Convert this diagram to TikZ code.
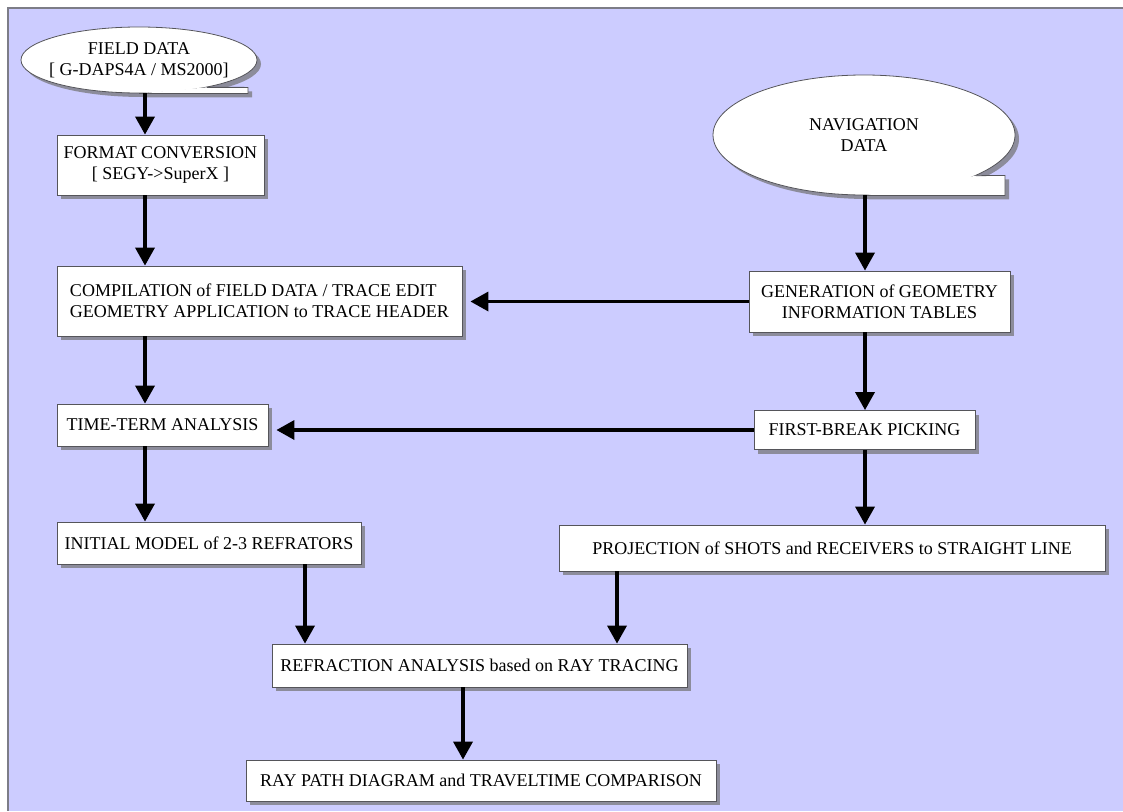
\documentclass[tikz,border=0pt]{standalone}
\usepackage{fontspec}
\setmainfont{Liberation Serif}
\usepackage{tikz}
\usetikzlibrary{arrows.meta,shapes.geometric,shadows,calc}

\definecolor{lavender}{RGB}{204,204,255}
\definecolor{framegray}{RGB}{125,125,135}
\definecolor{edgegray}{RGB}{85,85,90}
\definecolor{shadegray}{RGB}{140,140,155}

\begin{document}
\begin{tikzpicture}[
  x=1pt, y=-1pt,
  font=\fontsize{18}{21}\selectfont,
  shade/.style={drop shadow={shadow xshift=4pt, shadow yshift=-4pt,
               fill=shadegray, opacity=1}},
  stagebox/.style={draw=edgegray, fill=white, line width=0.8pt, align=center,
               inner sep=2pt, shade},
  tapebox/.style={stagebox, ellipse, inner sep=0pt},
  tail/.style={fill=white, shade},
  flow/.style={-{Triangle[length=18pt,width=19pt]}, line width=3.5pt}
]
\useasboundingbox (0,0) rectangle (1123,811);
\fill[white] (0,0) rectangle (1123,811);
\fill[lavender] (8,8) rectangle (1123,811);
\draw[framegray, line width=1.2pt] (1123,8) -- (8,8) -- (8,811);

% data sources
\node[tapebox, minimum width=236, minimum height=66, inner xsep=-14pt] (field) at (139,60)
  {FIELD DATA\\{[} G-DAPS4A / MS2000{]}};
\fill[tail] (field.south) -- ++(109,0) -- ++(0,-6) -- (field.-22) -- cycle;
\draw[edgegray, line width=0.8pt] (field.south) -- ++(109,0) -- ++(0,-6) -- (field.-22);

\node[tapebox, minimum width=302, minimum height=120] (nav) at (864,135)
  {NAVIGATION\\DATA};
\fill[tail] (nav.south) -- ++(141,0) -- ++(0,-20) -- (nav.-20) -- cycle;
\draw[edgegray, line width=0.8pt] (nav.south) -- ++(141,0) -- ++(0,-20) -- (nav.-20);

% processing steps
\node[stagebox, minimum width=207, minimum height=60] (fmt) at (160.5,165)
  {FORMAT CONVERSION\\{[} SEGY->SuperX ]};
\node[stagebox, minimum width=405, minimum height=70, align=left] (comp) at (259.5,301)
  {COMPILATION of FIELD DATA / TRACE EDIT\\GEOMETRY APPLICATION to TRACE HEADER};
\node[stagebox, minimum width=261, minimum height=61] (geo) at (879.5,301.5)
  {GENERATION of GEOMETRY\\INFORMATION TABLES};
\node[stagebox, minimum width=211, minimum height=42] (tterm) at (162.5,425)
  {TIME-TERM ANALYSIS};
\node[stagebox, minimum width=221, minimum height=39] (fbp) at (864.5,430)
  {FIRST-BREAK PICKING};
\node[stagebox, minimum width=304, minimum height=42] (init) at (209,543)
  {INITIAL MODEL of 2-3 REFRATORS};
\node[stagebox, minimum width=546, minimum height=46] (proj) at (832,548)
  {PROJECTION of SHOTS and RECEIVERS to STRAIGHT LINE};
\node[stagebox, minimum width=415, minimum height=43] (refr) at (479.5,665.5)
  {REFRACTION ANALYSIS based on RAY TRACING};
\node[stagebox, minimum width=470, minimum height=41] (ray) at (481,780.5)
  {RAY PATH DIAGRAM and TRAVELTIME COMPARISON};

% arrow columns
\coordinate (lc) at (145,0);
\coordinate (rc) at (865,0);
\coordinate (ic) at (305,0);
\coordinate (pc) at (617,0);
\coordinate (dc) at (463,0);

\draw[flow] (field.south -| lc) -- (fmt.north -| lc);
\draw[flow] (fmt.south -| lc) -- (comp.north -| lc);
\draw[flow] (comp.south -| lc) -- (tterm.north -| lc);
\draw[flow] (tterm.south -| lc) -- (init.north -| lc);
\draw[flow] (nav.south -| rc) -- (geo.north -| rc);
\draw[flow] (geo.south -| rc) -- (fbp.north -| rc);
\draw[flow] (fbp.south -| rc) -- (proj.north -| rc);
\draw[flow, shorten >=8pt] (geo.west) -- (geo.west -| comp.east);
\draw[flow, shorten >=8pt] (fbp.west) -- (fbp.west -| tterm.east);
\draw[flow] (init.south -| ic) -- (refr.north -| ic);
\draw[flow] (proj.south -| pc) -- (refr.north -| pc);
\draw[flow] (refr.south -| dc) -- (ray.north -| dc);
\end{tikzpicture}
\end{document}
